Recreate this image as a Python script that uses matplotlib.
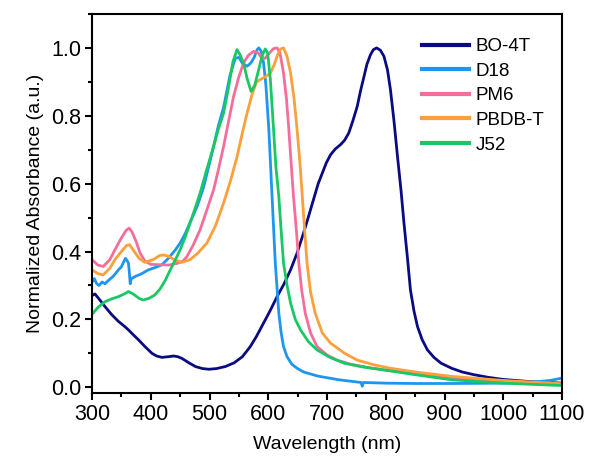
import matplotlib
matplotlib.use("Agg")
import matplotlib.pyplot as plt
from matplotlib.ticker import MultipleLocator

plt.rcParams['font.family'] = ['Liberation Sans', 'DejaVu Sans']

# ---- data ----
bo4t_wl = [300, 305, 312, 322, 333, 345, 355, 362, 370, 379, 390, 402, 410, 419, 430, 439, 446, 453, 465,
           476, 488, 499, 512, 527, 542, 556, 569.5, 580, 592, 603, 615, 627, 638, 649, 660, 668, 677, 685,
           692, 699, 706, 714, 723, 730, 737, 744, 751.5, 757, 763, 768, 774, 779, 784.5, 791, 797, 803,
           808, 814, 820, 826, 831, 837, 842, 848, 854, 862, 871, 882, 894, 912, 930, 950, 975, 1000,
           1050, 1100]
bo4t_ab = [0.27, 0.275, 0.26, 0.238, 0.215, 0.194, 0.18, 0.169, 0.155, 0.14, 0.12, 0.10, 0.092, 0.088,
           0.09, 0.092, 0.09, 0.085, 0.072, 0.061, 0.055, 0.053, 0.055, 0.061, 0.072, 0.09, 0.12, 0.15,
           0.189, 0.225, 0.267, 0.305, 0.346, 0.395, 0.454, 0.5, 0.553, 0.6, 0.631, 0.662, 0.685, 0.702,
           0.715, 0.728, 0.749, 0.785, 0.828, 0.873, 0.916, 0.952, 0.98, 0.995, 1.0, 0.993, 0.975, 0.935,
           0.877, 0.785, 0.68, 0.58, 0.484, 0.38, 0.287, 0.225, 0.179, 0.14, 0.11, 0.088, 0.071, 0.056,
           0.045, 0.037, 0.029, 0.023, 0.016, 0.012]

d18_wl = [300, 304, 308, 312, 317, 322, 328, 335, 340, 345, 350, 354, 357, 360, 362, 363.5, 365, 367, 373,
          385, 396, 408, 419, 430, 442, 450, 459, 468, 479, 490, 500, 507, 515, 524, 535, 544, 550, 556,
          564, 570, 576, 581, 584, 588, 592, 596, 601, 606.5, 612, 618, 622, 626, 632, 640, 649, 660, 684,
          720, 758, 760, 762, 800, 850, 912, 1000, 1050, 1080, 1100]
d18_ab = [0.31, 0.32, 0.305, 0.30, 0.31, 0.305, 0.315, 0.325, 0.335, 0.346, 0.355, 0.37, 0.38, 0.372,
          0.366, 0.34, 0.305, 0.32, 0.326, 0.335, 0.346, 0.353, 0.361, 0.38, 0.405, 0.425, 0.454, 0.49,
          0.533, 0.59, 0.66, 0.71, 0.77, 0.825, 0.92, 0.97, 0.972, 0.955, 0.946, 0.955, 0.972, 0.995, 1.0,
          0.99, 0.956, 0.89, 0.76, 0.562, 0.366, 0.218, 0.16, 0.12, 0.09, 0.068, 0.056, 0.045, 0.033,
          0.022, 0.014, 0.003, 0.014, 0.012, 0.011, 0.011, 0.012, 0.015, 0.02, 0.027]

pm6_wl = [300, 310, 319, 330, 339, 350, 358, 363, 368, 375, 382, 390, 400, 416, 430, 445, 455, 461.5, 472,
          484, 495, 507, 515, 524, 532, 541, 550, 558, 566, 575, 583, 590, 595, 602, 609, 615, 620, 626,
          631, 635, 639, 643, 648, 652, 657, 663, 672, 683, 700, 717, 740, 770, 797, 850, 912, 1000, 1100]
pm6_ab = [0.376, 0.36, 0.356, 0.375, 0.405, 0.44, 0.462, 0.469, 0.458, 0.43, 0.395, 0.372, 0.362, 0.361,
          0.36, 0.365, 0.372, 0.385, 0.418, 0.464, 0.52, 0.582, 0.64, 0.71, 0.78, 0.857, 0.915, 0.956,
          0.978, 0.99, 0.985, 0.968, 0.97, 0.985, 0.998, 1.0, 0.985, 0.926, 0.85, 0.76, 0.66, 0.562, 0.46,
          0.366, 0.285, 0.218, 0.16, 0.12, 0.095, 0.08, 0.068, 0.058, 0.051, 0.04, 0.028, 0.018, 0.01]

pbdbt_wl = [300, 310, 319, 330, 339, 350, 359, 364, 372, 380, 390, 405, 415, 422, 430, 440, 453, 467, 480,
            495.6, 510, 524, 536, 547, 556, 564, 572, 580, 586.6, 595, 603.6, 610, 616, 621, 626, 632, 638,
            644, 649, 654, 658, 662, 666, 672, 680, 692, 706, 730, 751.5, 780, 808, 850, 912, 1000, 1100]
pbdbt_ab = [0.346, 0.335, 0.331, 0.35, 0.376, 0.40, 0.418, 0.42, 0.40, 0.38, 0.368, 0.377, 0.388, 0.39,
            0.386, 0.376, 0.368, 0.376, 0.395, 0.425, 0.475, 0.543, 0.61, 0.68, 0.75, 0.808, 0.86, 0.9,
            0.907, 0.915, 0.926, 0.95, 0.98, 0.997, 1.0, 0.975, 0.926, 0.85, 0.76, 0.66, 0.562, 0.46, 0.366,
            0.28, 0.218, 0.16, 0.13, 0.1, 0.08, 0.066, 0.056, 0.045, 0.032, 0.02, 0.01]

j52_wl = [300, 310, 322, 333, 345, 355, 362, 370, 380, 387, 397, 407, 416, 425, 433, 442, 450, 459, 467,
          475, 484, 495, 507, 515, 524, 532, 540, 546.8, 552, 558, 564, 570.7, 577, 583.7, 590, 595, 599,
          603.6, 609, 613, 618, 622, 626, 632, 638, 646, 655, 668, 683, 705, 729, 760, 797, 850, 912, 1000,
          1100]
j52_ab = [0.215, 0.235, 0.252, 0.26, 0.267, 0.275, 0.282, 0.275, 0.262, 0.257, 0.262, 0.272, 0.29, 0.316,
          0.345, 0.376, 0.405, 0.444, 0.484, 0.525, 0.572, 0.64, 0.71, 0.76, 0.808, 0.88, 0.96, 0.995,
          0.98, 0.955, 0.91, 0.872, 0.89, 0.936, 0.98, 0.997, 0.985, 0.907, 0.76, 0.65, 0.562, 0.46, 0.366,
          0.3, 0.248, 0.2, 0.169, 0.135, 0.11, 0.088, 0.071, 0.06, 0.051, 0.037, 0.022, 0.012, 0.005]

labels = ['BO-4T', 'D18', 'PM6', 'PBDB-T', 'J52']
colors = ['#0A0A82', '#1E96F0', '#F56E9B', '#FAA03C', '#19C864']
series = [(bo4t_wl, bo4t_ab), (d18_wl, d18_ab), (pm6_wl, pm6_ab), (pbdbt_wl, pbdbt_ab), (j52_wl, j52_ab)]

fig = plt.figure(figsize=(5.9, 4.61), dpi=100)
ax = fig.add_axes([92/590, 1 - 393/461, (562-92)/590, (393-14)/461])

for (x, y), lab, c in zip(series, labels, colors):
    ax.plot(x, y, color=c, lw=2.0, label=lab, solid_joinstyle='round')

ax.set_xlim(300, 1100)
ax.set_ylim(-0.017, 1.10)
ax.xaxis.set_major_locator(MultipleLocator(100))
ax.xaxis.set_minor_locator(MultipleLocator(50))
ax.yaxis.set_major_locator(MultipleLocator(0.2))
ax.yaxis.set_minor_locator(MultipleLocator(0.1))
ax.yaxis.set_major_formatter(plt.FormatStrFormatter('%.1f'))

for s in ax.spines.values():
    s.set_linewidth(1.5)
ax.tick_params(which='both', direction='out', top=False, right=False, width=1.5)
ax.tick_params(which='major', length=5, labelsize=15.5, pad=3)
ax.tick_params(which='minor', length=3)

ax.set_xlabel('Wavelength (nm)', fontsize=14, labelpad=8)
ax.set_ylabel('Normalized Absorbance (a.u.)', fontsize=14, labelpad=5)

leg = ax.legend(loc='upper left', bbox_to_anchor=(422/590, 1 - 38/461), bbox_transform=fig.transFigure,
                frameon=False, fontsize=13.5, handlelength=2.5, handletextpad=0.35, labelspacing=0.4,
                borderpad=0, borderaxespad=0)
for h in leg.get_lines():
    h.set_linewidth(3)

fig.savefig('out.png', dpi=100)
